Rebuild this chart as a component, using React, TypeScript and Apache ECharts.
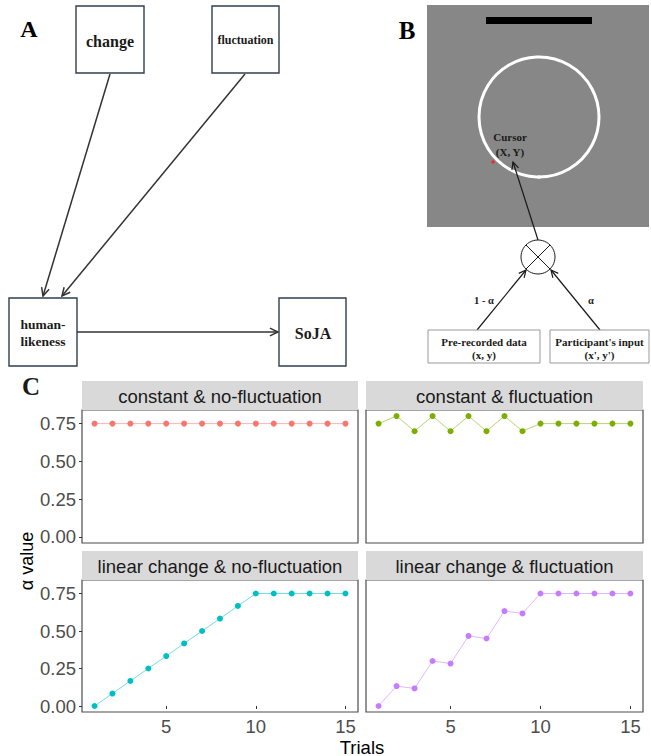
import React, { useEffect, useRef } from "react";
import * as echarts from "echarts";

// ---- data ----
const trials = [1, 2, 3, 4, 5, 6, 7, 8, 9, 10, 11, 12, 13, 14, 15];
const constantNoFluctuation = [0.75, 0.75, 0.75, 0.75, 0.75, 0.75, 0.75, 0.75, 0.75, 0.75, 0.75, 0.75, 0.75, 0.75, 0.75];
const constantFluctuation = [0.75, 0.8, 0.7, 0.8, 0.7, 0.8, 0.7, 0.8, 0.7, 0.75, 0.75, 0.75, 0.75, 0.75, 0.75];
const linearNoFluctuation = [0, 0.083, 0.167, 0.25, 0.333, 0.417, 0.5, 0.583, 0.667, 0.75, 0.75, 0.75, 0.75, 0.75, 0.75];
const linearFluctuation = [0, 0.133, 0.117, 0.3, 0.283, 0.467, 0.45, 0.633, 0.617, 0.75, 0.75, 0.75, 0.75, 0.75, 0.75];
const panelTitles = [
  "constant & no-fluctuation",
  "constant & fluctuation",
  "linear change & no-fluctuation",
  "linear change & fluctuation",
];
const yTicks = [0, 0.25, 0.5, 0.75];
const xTicks = [5, 10, 15];
const seriesColors = ["#F8766D", "#7CAE00", "#00BFC4", "#C77CFF"];
const allSeries = [constantNoFluctuation, constantFluctuation, linearNoFluctuation, linearFluctuation];

const SERIF = "'Liberation Serif', 'DejaVu Serif', serif";
const SANS = "'Liberation Sans', Arial, sans-serif";

function arrow(x1: number, y1: number, x2: number, y2: number, color = "#333", len = 9, w = 1.5) {
  const ang = Math.atan2(y2 - y1, x2 - x1);
  const a = Math.PI / 7;
  const p1 = [x2 - len * Math.cos(ang - a), y2 - len * Math.sin(ang - a)];
  const p2 = [x2 - len * Math.cos(ang + a), y2 - len * Math.sin(ang + a)];
  return [
    { type: "line", shape: { x1, y1, x2, y2 }, style: { stroke: color, lineWidth: w } },
    { type: "polyline", shape: { points: [p1, [x2, y2], p2] }, style: { stroke: color, lineWidth: w, fill: null } },
  ];
}

function txt(x: number, y: number, text: string, size: number, opts: any = {}) {
  return {
    type: "text",
    x,
    y,
    rotation: opts.rotation || 0,
    style: {
      text,
      fill: opts.fill || "#1a1a1a",
      fontSize: size,
      fontFamily: opts.family || SERIF,
      fontWeight: opts.weight || "bold",
      align: "center",
      verticalAlign: "middle",
    },
  };
}

function box(x: number, y: number, w: number, h: number, stroke = "#2f3f4f", lw = 1.4) {
  return { type: "rect", shape: { x, y, width: w, height: h }, style: { fill: "#fff", stroke, lineWidth: lw } };
}

export default function App() {
  const ref = useRef<HTMLDivElement>(null);
  useEffect(() => {
    document.body.style.margin = "0";
    const chart = echarts.init(ref.current!, null, { renderer: "svg" });

    const grids = [
      { left: 82, top: 410, width: 276, height: 133 },
      { left: 366, top: 410, width: 277, height: 133 },
      { left: 82, top: 580, width: 276, height: 132 },
      { left: 366, top: 580, width: 277, height: 132 },
    ];

    const graphic: any[] = [];
    // strips
    grids.forEach((g, i) => {
      const top = g.top - 29;
      graphic.push({ type: "rect", shape: { x: g.left, y: top, width: g.width, height: 29 }, style: { fill: "#d9d9d9" } });
      graphic.push(txt(g.left + g.width / 2, top + 15, panelTitles[i], 18.5, { family: SANS, weight: "normal", fill: "#1a1a1a" }));
    });
    graphic.push(txt(27, 561, "α value", 18, { family: SANS, weight: "normal", fill: "#000", rotation: Math.PI / 2 }));
    graphic.push(txt(362, 747, "Trials", 18.5, { family: SANS, weight: "normal", fill: "#000" }));
    graphic.push(txt(31, 386, "C", 25, {}));

    // Panel A
    graphic.push(txt(29, 29, "A", 24, { fill: "#000" }));
    graphic.push(...arrow(110, 74, 43, 296));
    graphic.push(...arrow(245, 74, 62, 296));
    graphic.push(...arrow(77, 332, 278, 332));
    graphic.push(box(76, 6, 68, 67));
    graphic.push(txt(110, 41, "change", 16));
    graphic.push(box(212, 6, 67, 67));
    graphic.push(txt(245.5, 40, "fluctuation", 12));
    graphic.push(box(9, 298, 68, 68));
    graphic.push(txt(43, 324, "human-", 13.5));
    graphic.push(txt(43, 341, "likeness", 13.5));
    graphic.push(box(279, 298, 67, 68));
    graphic.push(txt(313, 333, "SoJA", 16));

    // Panel B
    graphic.push(txt(407, 30, "B", 25, { fill: "#000" }));
    graphic.push({ type: "rect", shape: { x: 427, y: 5, width: 222, height: 222 }, style: { fill: "#878787" } });
    graphic.push({ type: "rect", shape: { x: 486, y: 17, width: 106, height: 7 }, style: { fill: "#000" } });
    graphic.push({ type: "circle", shape: { cx: 539, cy: 117, r: 60 }, style: { fill: null, stroke: "#fff", lineWidth: 3 } });
    graphic.push({ type: "circle", shape: { cx: 539, cy: 177, r: 1.8 }, style: { fill: "#fff" } });
    graphic.push({ type: "circle", shape: { cx: 493, cy: 162, r: 1.6 }, style: { fill: "#ff2020" } });
    graphic.push(txt(510, 137, "Cursor", 11));
    graphic.push(txt(510, 152, "(X, Y)", 11));
    graphic.push(...arrow(538, 240, 513, 162, "#1a1a1a", 8, 1.2));
    graphic.push({ type: "circle", shape: { cx: 538, cy: 257, r: 17 }, style: { fill: "#fff", stroke: "#1a1a1a", lineWidth: 1 } });
    graphic.push({ type: "line", shape: { x1: 526, y1: 245, x2: 550, y2: 269 }, style: { stroke: "#1a1a1a", lineWidth: 1 } });
    graphic.push({ type: "line", shape: { x1: 550, y1: 245, x2: 526, y2: 269 }, style: { stroke: "#1a1a1a", lineWidth: 1 } });
    graphic.push(...arrow(477, 330, 526, 270, "#1a1a1a", 8, 1.2));
    graphic.push(...arrow(600, 330, 551, 270, "#1a1a1a", 8, 1.2));
    graphic.push(txt(484, 300, "1 - α", 10.5));
    graphic.push(txt(591, 300, "α", 10.5));
    graphic.push(box(428, 330, 112, 33, "#999", 1));
    graphic.push(txt(484, 342, "Pre-recorded data", 11));
    graphic.push(txt(484, 355, "(x, y)", 11));
    graphic.push(box(550, 330, 99, 33, "#999", 1));
    graphic.push(txt(599.5, 342, "Participant's input", 11));
    graphic.push(txt(599.5, 355, "(x', y')", 11));

    const option: any = {
      animation: false,
      backgroundColor: "#fff",
      grid: grids.map((g) => ({ ...g, show: true, borderColor: "#4d4d4d", borderWidth: 1.2, backgroundColor: "transparent" })),
      xAxis: grids.map((g, i) => ({
        type: "value",
        gridIndex: i,
        min: 0.3,
        max: 15.7,
        splitLine: { show: false },
        axisLine: { show: false },
        axisTick: { show: i >= 2, length: 3, customValues: xTicks, lineStyle: { color: "#333" } },
        axisLabel: {
          show: i >= 2,
          customValues: xTicks,
          color: "#4d4d4d",
          fontSize: 18.5,
          fontFamily: SANS,
          margin: 5,
        },
      })),
      yAxis: grids.map((g, i) => ({
        type: "value",
        gridIndex: i,
        min: -0.04,
        max: 0.84,
        splitLine: { show: false },
        axisLine: { show: false },
        axisTick: { show: i % 2 === 0, length: 3, customValues: yTicks, lineStyle: { color: "#333" } },
        axisLabel: {
          show: i % 2 === 0,
          customValues: yTicks,
          color: "#4d4d4d",
          fontSize: 18.5,
          fontFamily: SANS,
          margin: 6,
          formatter: (v: number) => v.toFixed(2),
        },
      })),
      series: allSeries.map((vals, i) => ({
        type: "line",
        xAxisIndex: i,
        yAxisIndex: i,
        data: trials.map((t, k) => [t, vals[k]]),
        symbol: "circle",
        symbolSize: 6,
        itemStyle: { color: seriesColors[i] },
        lineStyle: { color: seriesColors[i], width: 1, opacity: 0.55 },
      })),
      graphic,
    };
    chart.setOption(option);
    return () => chart.dispose();
  }, []);
  return <div ref={ref} style={{ width: 651, height: 756 }} />;
}
